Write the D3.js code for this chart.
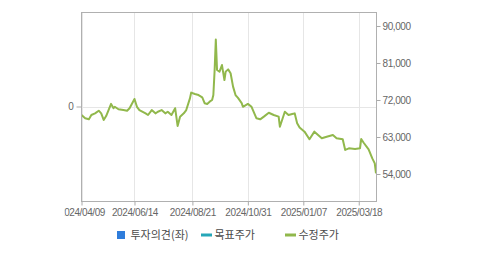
<!DOCTYPE html>
<html><head><meta charset="utf-8">
<script src="https://cdn.jsdelivr.net/npm/d3@7/dist/d3.min.js"></script>
<style>
html,body{margin:0;padding:0;background:#fff;}
svg{display:block;}
.ax text{font-family:"Liberation Sans",Arial,sans-serif;font-size:10px;fill:#666;letter-spacing:-0.4px;}
.ax line{stroke:#aaa;}
.ax path{display:none;}
.lg{font-family:"Noto Sans CJK KR",sans-serif;font-size:11px;fill:#4a4a4a;}
</style></head>
<body>
<script>
// ---- data ----
const tickIdx = [0, 43, 90, 135, 180, 225];
const tickLabels = ["2024/04/09","2024/06/14","2024/08/21","2024/10/31","2025/01/07","2025/03/18"];
const nDays = 240;
const rightTicks = [54000, 63000, 72000, 81000, 90000];
const leftTicks = [0];
const priceIdx = [0,3,6,8,11,14,16,18,20,24,26,27,30,34,37,39,43,45,47,52,54,57,60,62,65,68,70,73,76,78,80,83,85,88,89,92,95,98,100,102,104,106,107,108,109,110,112,114,116,117,119,121,123,125,127,130,131,135,138,142,145,148,152,156,160,161,165,168,171,173,175,177,181,185,189,192,195,199,204,207,212,214,217,222,226,227,229,233,236,238,239];
const priceVal = [68350,67550,67300,68350,68750,69400,68750,67150,68100,71050,70000,70350,69750,69550,69400,70000,72250,70350,69550,68750,68350,69550,68750,69150,69550,68750,69150,68350,70000,65700,67950,68750,69550,72400,73800,73450,73200,72650,71200,71050,71600,72000,73200,79000,86700,79300,78900,80500,76850,78900,79450,78500,75250,73200,72500,71250,70350,71050,70350,67550,67300,67950,68900,68350,67950,65500,69150,68350,68600,68750,66350,65300,64300,62450,64300,63500,62700,63050,63500,62700,62450,59850,60250,60100,60250,62500,61600,60000,57800,56600,54150];
const legendItems = [
  {label:"투자의견(좌)", kind:"square", color:"#2f7ddb"},
  {label:"목표주가", kind:"line", color:"#26a7b8"},
  {label:"수정주가", kind:"line", color:"#91b84c"}
];

// ---- layout ----
const W = 479, H = 255;
const X0 = 81.5, X1 = 376.5, Y0 = 12.5, Y1 = 201.5;

const svg = d3.select("body").append("svg").attr("width", W).attr("height", H);

const x = d3.scaleLinear().domain([0, nDays - 1]).range([X0, 376]);
const y = d3.scaleLinear().domain([47315, 93280]).range([Y1, Y0]);
const yl = d3.scaleLinear().domain([-1, 1]).range([200.5, 12.5]);

// grid
svg.append("g").selectAll("line").data(tickIdx).join("line")
  .attr("x1", d => Math.round(x(d)) + 0.5).attr("x2", d => Math.round(x(d)) + 0.5)
  .attr("y1", Y0).attr("y2", Y1).attr("stroke", "#e6e6e6");
svg.append("g").selectAll("line").data(leftTicks).join("line")
  .attr("x1", X0).attr("x2", X1)
  .attr("y1", d => Math.round(yl(d)) + 0.5).attr("y2", d => Math.round(yl(d)) + 0.5)
  .attr("stroke", "#e6e6e6");

// price line
const pts = priceIdx.map((d, i) => [d, priceVal[i]]);
svg.append("path").datum(pts)
  .attr("fill", "none").attr("stroke", "#91b84c").attr("stroke-width", 2)
  .attr("stroke-linejoin", "round")
  .attr("d", d3.line().x(d => x(d[0])).y(d => y(d[1])));

// frame
svg.append("rect").attr("x", X0).attr("y", Y0).attr("width", X1 - X0).attr("height", Y1 - Y0)
  .attr("fill", "none").attr("stroke", "#b0b0b0");

// axes
svg.append("g").attr("class", "ax").attr("transform", `translate(${X1},0)`)
  .call(d3.axisRight(y).tickValues(rightTicks).tickSize(4).tickPadding(2).tickFormat(d3.format(",")));
svg.append("g").attr("class", "ax").attr("transform", `translate(${X0},0)`)
  .call(d3.axisLeft(yl).tickValues(leftTicks).tickSize(5).tickPadding(3).tickFormat(d3.format("d")));

svg.append("clipPath").attr("id", "xclip").append("rect")
  .attr("x", 64.5).attr("y", 0).attr("width", W).attr("height", H);
svg.append("g").attr("class", "ax").attr("clip-path", "url(#xclip)")
  .append("g").attr("transform", `translate(0,${Y1})`)
  .call(d3.axisBottom(x).tickValues(tickIdx).tickSize(4).tickPadding(3)
    .tickFormat((d, i) => tickLabels[i]));

// legend
const lgX = [117, 201, 285];
const lg = svg.append("g");
legendItems.forEach((it, i) => {
  const g = lg.append("g").attr("transform", `translate(${lgX[i]},235)`);
  if (it.kind === "square") {
    g.append("rect").attr("x", 0).attr("y", -4).attr("width", 8).attr("height", 8).attr("fill", it.color);
  } else {
    g.append("line").attr("x1", 0).attr("x2", 11).attr("y1", 0).attr("y2", 0)
      .attr("stroke", it.color).attr("stroke-width", 3);
  }
  g.append("text").attr("class", "lg").attr("x", 13.5).attr("y", 0).attr("dy", "0.36em").text(it.label);
});
</script>
</body></html>
